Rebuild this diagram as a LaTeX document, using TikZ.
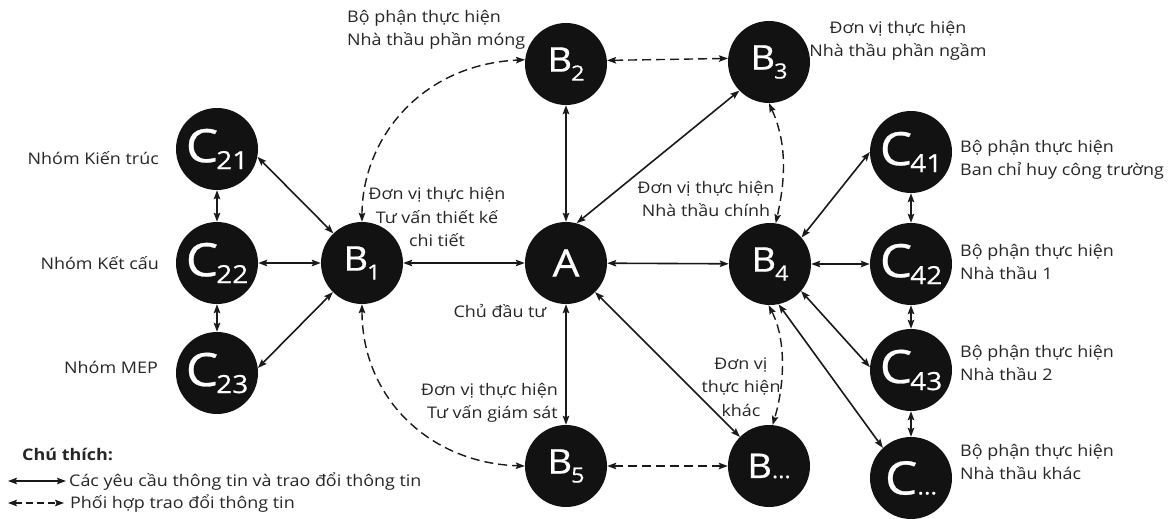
\documentclass[tikz,border=0pt]{standalone}
\usepackage{fontspec}
\setmainfont{Open Sans}[FakeStretch=1.12]
\usetikzlibrary{arrows.meta}
\newcommand{\bname}[1]{B\kern-1pt\raisebox{-9pt}{\fontsize{21}{21}\selectfont #1}}
\newcommand{\cname}[1]{C\kern-2pt\raisebox{-7pt}{\fontsize{25}{25}\selectfont #1}}
\begin{document}
\begin{tikzpicture}[x=1pt,y=-1pt,
    ball/.style={circle,fill=black!93,minimum size=82pt,inner sep=0pt,text=white},
    bball/.style={ball,font=\fontsize{34}{34}\selectfont\addfontfeature{FakeBold=0.6}},
    cball/.style={ball,font=\fontsize{46}{46}\selectfont\addfontfeature{FakeBold=0.6}},
    lbl/.style={font=\fontsize{16}{23.5}\selectfont,text=black!85,inner sep=0pt},
    link/.style={{Stealth[length=9pt,width=6.5pt,inset=1.5pt]}-{Stealth[length=9pt,width=6.5pt,inset=1.5pt]},line width=1.6pt,black!90},
    coop/.style={link,line width=1.4pt,dash pattern=on 9pt off 5pt}]
  \fill[white] (0,0) rectangle (1176,519);
  \useasboundingbox (0,0) rectangle (1176,519);
  % nodes
  \node[cball] (C21) at (217,149) {\cname{21}};
  \node[cball] (C22) at (217,263) {\cname{22}};
  \node[cball] (C23) at (217,373) {\cname{23}};
  \node[bball] (B1) at (362,263) {\bname{1}};
  \node[ball,font=\fontsize{38}{38}\selectfont\addfontfeature{FakeBold=0.6}] (A) at (566,263) {A};
  \node[bball] (B2) at (566,64) {\bname{2}};
  \node[bball] (B3) at (769,62) {\bname{3}};
  \node[bball] (B4) at (770,264) {\bname{4}};
  \node[bball] (B5) at (566,466) {\bname{5}};
  \node[bball] (Bx) at (769,466) {B\fontsize{21}{21}\selectfont...};
  \node[cball] (C41) at (911,152) {\cname{41}};
  \node[cball] (C42) at (911,264) {\cname{42}};
  \node[cball] (C43) at (911,370) {\cname{43}};
  \node[cball] (Cx) at (911,478) {C\fontsize{22}{22}\selectfont...};
  % labels
  \node[lbl,anchor=east] (lc21) at (159,158) {Nhóm Kiến trúc};
  \node[lbl,anchor=east] (lc22) at (159,263) {Nhóm Kết cấu};
  \node[lbl,anchor=east] (lc23) at (158,367) {Nhóm MEP};
  \node[lbl,align=left,anchor=west] (lb2) at (347,30) {Bộ phận thực hiện\\Nhà thầu phần móng};
  \node[lbl,align=center] (lb3) at (898,41) {Đơn vị thực hiện\\Nhà thầu phần ngầm};
  \node[lbl,align=center] (lb1) at (437,217) {Đơn vị thực hiện\\Tư vấn thiết kế\\chi tiết};
  \node[lbl,align=center] (lb4) at (706,199) {Đơn vị thực hiện\\Nhà thầu chính};
  \node[lbl] (la) at (500,311) {Chủ đầu tư};
  \node[lbl,align=right,anchor=east] (lb5) at (558,403) {Đơn vị thực hiện\\Tư vấn giám sát};
  \node[lbl,align=center] (lbx) at (741,387) {Đơn vị\\thực hiện\\khác};
  \node[lbl,align=left,anchor=west] (lc41) at (960,160) {Bộ phận thực hiện\\Ban chỉ huy công trường};
  \node[lbl,align=left,anchor=west] (lc42) at (960,262) {Bộ phận thực hiện\\Nhà thầu 1};
  \node[lbl,align=left,anchor=west] (lc43) at (960,363) {Bộ phận thực hiện\\Nhà thầu 2};
  \node[lbl,align=left,anchor=west] (lcx) at (960,462) {Bộ phận thực hiện\\Nhà thầu khác};
  % information requests
  \draw[link] (C21) -- (C22);
  \draw[link] (C22) -- (C23);
  \draw[link] (C21.-11) -- (B1.134);
  \draw[link] (C22) -- (B1);
  \draw[link] (C23.7) -- (B1.225);
  \draw[link] (B1) -- (A);
  \draw[link] (A) -- (B2);
  \draw[link] (A.75) -- (B3.224);
  \draw[link] (A) -- (B4);
  \draw[link] (A) -- (B5);
  \draw[link] (A) -- (Bx);
  \draw[link] (B4.40) -- (C41.west);
  \draw[link] (B4) -- (C42);
  \draw[link] (B4.-41) -- (C43.176);
  \draw[link] (B4.-78) -- (Cx.133);
  \draw[link] (C41) -- (C42);
  \draw[link] (C42) -- (C43);
  \draw[link] (C43) -- (Cx);
  % coordination
  \draw[coop] (B2.5) -- (B3.175);
  \draw[coop] (B5) -- (Bx);
  \draw[coop] (B1.north) .. controls +(0,-82) and +(-105,5) .. (B2.174);
  \draw[coop] (B1.south) .. controls +(0,94) and +(-95,-3) .. (B5.west);
  \draw[coop] (B3.south) .. controls +(18,40) and +(10,-45) .. (B4.82);
  \draw[coop] (B4.-92) .. controls +(18,35) and +(12,-40) .. (Bx.85);
  % legend
  \node[lbl,font=\fontsize{16}{18}\bfseries,anchor=west] (legend) at (22,454) {Chú thích:};
  \coordinate (s1) at (8,481);
  \coordinate (s2) at (66,481);
  \coordinate (d1) at (8,503);
  \coordinate (d2) at (64,503);
  \draw[link,line width=1.3pt] (s1) -- (s2);
  \draw[coop,line width=1.2pt,dash pattern=on 7pt off 4pt] (d1) -- (d2);
  \node[lbl,anchor=west] (ls) at (69,481) {Các yêu cầu thông tin và trao đổi thông tin};
  \node[lbl,anchor=west] (ld) at (70,503) {Phối hợp trao đổi thông tin};
\end{tikzpicture}
\end{document}
